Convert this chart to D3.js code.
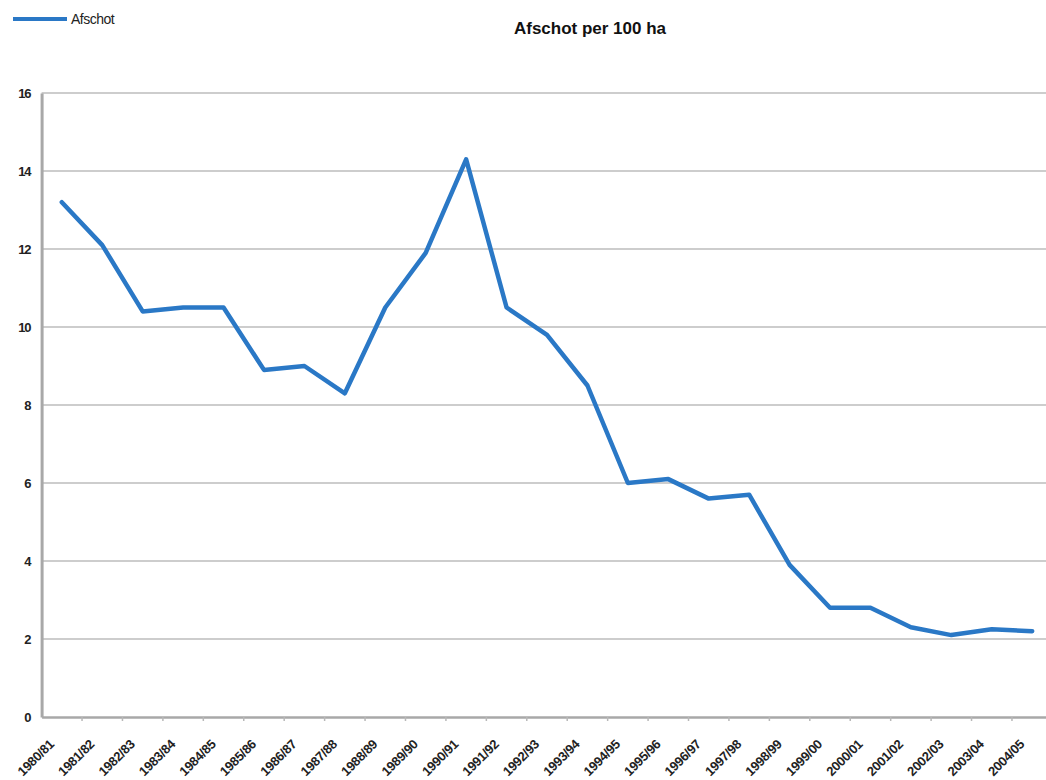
<!DOCTYPE html>
<html>
<head>
<meta charset="utf-8">
<script src="https://cdn.jsdelivr.net/npm/d3@7/dist/d3.min.js"></script>
<style>
  html, body { margin: 0; padding: 0; background: #fff; }
  svg { display: block; font-family: Arial, "Liberation Sans", sans-serif; }
</style>
</head>
<body>
<svg id="chart" width="1046" height="780"></svg>
<script>
// Hunting seasons and bag per 100 ha
const seasons = ["1980/81","1981/82","1982/83","1983/84","1984/85","1985/86","1986/87","1987/88",
  "1988/89","1989/90","1990/91","1991/92","1992/93","1993/94","1994/95","1995/96","1996/97",
  "1997/98","1998/99","1999/00","2000/01","2001/02","2002/03","2003/04","2004/05"];
const afschot = [13.2, 12.1, 10.4, 10.5, 10.5, 8.9, 9.0, 8.3, 10.5, 11.9, 14.3, 10.5, 9.8,
  8.5, 6.0, 6.1, 5.6, 5.7, 3.9, 2.8, 2.8, 2.3, 2.1, 2.25, 2.2];
const yTicks = [0, 2, 4, 6, 8, 10, 12, 14, 16];
const seriesName = "Afschot";
const chartTitle = "Afschot per 100 ha";

const svg = d3.select("#chart");
const plotLeft = 41.6, plotRight = 1052.4, plotTop = 93, plotBottom = 717;

const x = d3.scaleBand().domain(seasons).range([plotLeft, plotRight]);
const y = d3.scaleLinear().domain([0, 16]).range([plotBottom, plotTop]);

// Horizontal gridlines
svg.append("g")
  .selectAll("line")
  .data(yTicks.filter(d => d > 0))
  .join("line")
  .attr("x1", plotLeft).attr("x2", 1046)
  .attr("y1", d => y(d)).attr("y2", d => y(d))
  .attr("stroke", "#cdcdcd").attr("stroke-width", 2);

// Y axis
const yAxis = svg.append("g")
  .attr("transform", `translate(${plotLeft},0)`)
  .call(d3.axisLeft(y).tickValues(yTicks).tickSize(0).tickPadding(11));
yAxis.select(".domain").attr("stroke", "#a8a8a8").attr("stroke-width", 3);
yAxis.selectAll("text")
  .attr("font-size", 13).attr("font-weight", "bold").attr("fill", "#222")
  .attr("letter-spacing", "-1");

// X axis
const xAxis = svg.append("g")
  .attr("transform", `translate(0,${plotBottom})`)
  .call(d3.axisBottom(x).tickSize(0));
xAxis.select(".domain").attr("stroke", "#a8a8a8").attr("stroke-width", 2.5);
xAxis.selectAll(".tick text").remove();
// Tick marks at the band edges
svg.append("g")
  .selectAll("line")
  .data(seasons.slice(1))
  .join("line")
  .attr("x1", d => x(d)).attr("x2", d => x(d))
  .attr("y1", plotBottom).attr("y2", plotBottom + 4)
  .attr("stroke", "#b8b8b8").attr("stroke-width", 1.5);

// Rotated season labels
svg.append("g")
  .selectAll("text")
  .data(seasons)
  .join("text")
  .attr("transform", d => `translate(${x(d) + x.bandwidth() / 2 - 7},${plotBottom + 28}) rotate(-45)`)
  .attr("text-anchor", "end")
  .attr("font-size", 13)
  .attr("font-weight", "bold")
  .attr("letter-spacing", "-0.3")
  .attr("fill", "#222")
  .text(d => d);

// Data line
const line = d3.line()
  .x((d, i) => x(seasons[i]) + x.bandwidth() / 2)
  .y(d => y(d));
svg.append("path")
  .datum(afschot)
  .attr("d", line)
  .attr("fill", "none")
  .attr("stroke", "#2a78c6")
  .attr("stroke-width", 4.5)
  .attr("stroke-linejoin", "round")
  .attr("stroke-linecap", "round");

// Title
svg.append("text")
  .attr("x", 590).attr("y", 34)
  .attr("text-anchor", "middle")
  .attr("font-size", 17).attr("font-weight", "bold").attr("fill", "#111")
  .text(chartTitle);

// Legend
svg.append("line")
  .attr("x1", 13).attr("x2", 67).attr("y1", 19).attr("y2", 19)
  .attr("stroke", "#2a78c6").attr("stroke-width", 4);
svg.append("text")
  .attr("x", 71).attr("y", 24)
  .attr("font-size", 14).attr("fill", "#222").attr("letter-spacing", "-0.5")
  .text(seriesName);
</script>
</body>
</html>
